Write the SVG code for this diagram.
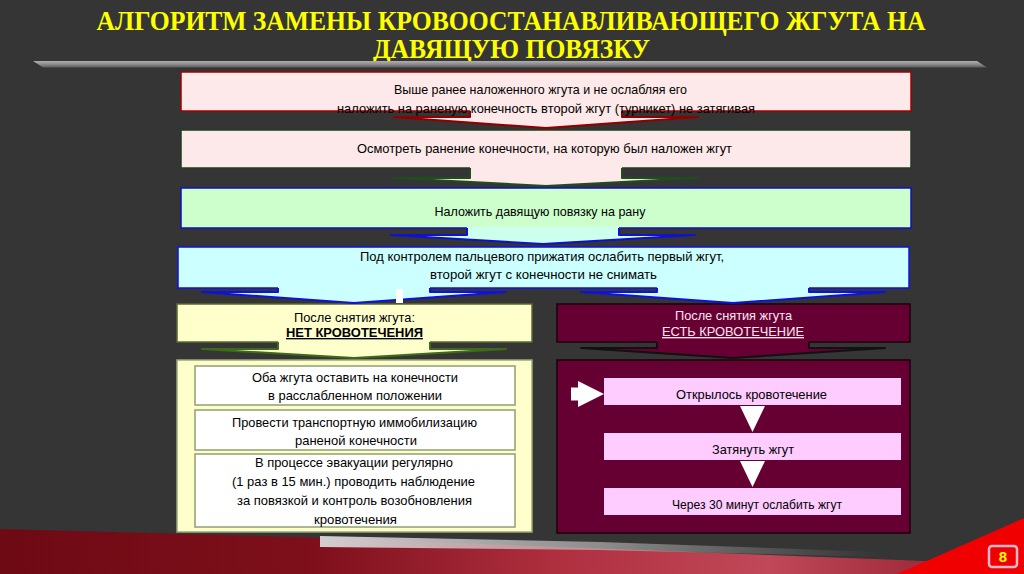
<svg xmlns="http://www.w3.org/2000/svg" width="1024" height="574" viewBox="0 0 1024 574">
<defs>
<linearGradient id="band" x1="0" y1="0" x2="1" y2="0">
<stop offset="0" stop-color="#6e0a14"/>
<stop offset="0.3" stop-color="#7d0f1a"/>
<stop offset="0.55" stop-color="#b03040"/>
<stop offset="0.75" stop-color="#c04858"/>
<stop offset="1" stop-color="#8c1828"/>
</linearGradient>
<linearGradient id="streak" x1="0" y1="0" x2="1" y2="0">
<stop offset="0" stop-color="#d8d8d8" stop-opacity="0.95"/>
<stop offset="0.5" stop-color="#c8c8c8" stop-opacity="0.6"/>
<stop offset="1" stop-color="#b0b0b0" stop-opacity="0"/>
</linearGradient>
<linearGradient id="bar" x1="0" y1="0" x2="0" y2="1">
<stop offset="0" stop-color="#b0b0b0"/>
<stop offset="0.5" stop-color="#8c8c8c"/>
<stop offset="1" stop-color="#5a5a5a"/>
</linearGradient>
</defs>
<style>
.t{font-family:"Liberation Sans",Arial,sans-serif;font-size:13px;fill:#000;text-anchor:middle}
.h{font-family:"Liberation Sans",Arial,sans-serif;font-size:13.5px;text-anchor:middle}
.title{font-family:"Liberation Serif","Times New Roman",serif;font-weight:bold;font-size:27px;fill:#ffff00;text-anchor:middle}
.ao{fill:none;stroke-width:2;stroke-linejoin:round}
</style>
<rect width="1024" height="574" fill="#353535"/>

<g id="bottom-decor">
<polygon points="0,529 300,537 900,560 1024,566 1024,574 0,574" fill="url(#band)"/>
<polygon points="320,536 600,542 880,552 880,557 600,550 320,547" fill="url(#streak)"/>
<polygon points="897,574 1024,518 1024,574" fill="#f00000"/>
</g>

<g id="title">
<text class="title" x="511" y="30" textLength="829" lengthAdjust="spacingAndGlyphs">АЛГОРИТМ ЗАМЕНЫ КРОВООСТАНАВЛИВАЮЩЕГО ЖГУТА НА</text>
<text class="title" x="511.5" y="58" textLength="277" lengthAdjust="spacingAndGlyphs">ДАВЯЩУЮ ПОВЯЗКУ</text>
<polygon points="33,61 977,61 987,67.5 43,67.5" fill="url(#bar)"/>
</g>

<g id="step1">
<rect x="181" y="72" width="730" height="39" fill="#fde9e9" stroke="#a00000" stroke-width="1.5"/>
</g>
<g id="step2">
<rect x="181" y="130" width="730" height="38" fill="#fde9e9" stroke="#1e3d1e" stroke-width="1.5"/>
<text class="t" x="544.5" y="153" textLength="375" lengthAdjust="spacingAndGlyphs">Осмотреть ранение конечности, на которую был наложен жгут</text>
</g>
<g id="step3">
<rect x="181" y="188" width="730" height="40" fill="#ccffcc" stroke="#1010c0" stroke-width="1.5"/>
<text class="t" x="540" y="216" textLength="211" lengthAdjust="spacingAndGlyphs">Наложить давящую повязку на рану</text>
</g>
<g id="step4">
<rect x="178" y="247" width="731" height="41" fill="#ccffff" stroke="#1010e0" stroke-width="1.5"/>
<text class="t" x="542" y="261" textLength="364" lengthAdjust="spacingAndGlyphs">Под контролем пальцевого прижатия ослабить первый жгут,</text>
<text class="t" x="543.5" y="279" textLength="227" lengthAdjust="spacingAndGlyphs">второй жгут с конечности не снимать</text>
</g>

<g id="no-bleeding-header">
<rect x="177" y="304" width="355" height="38" fill="#ffffcc" stroke="#556b2f" stroke-width="1.5"/>
<text class="h" x="354.5" y="322" textLength="121" lengthAdjust="spacingAndGlyphs" fill="#000">После снятия жгута:</text>
<text class="h" x="354.5" y="337" textLength="137" lengthAdjust="spacingAndGlyphs" fill="#000" font-weight="bold" text-decoration="underline">НЕТ КРОВОТЕЧЕНИЯ</text>
</g>
<g id="bleeding-header">
<rect x="557" y="304" width="353" height="38" fill="#660033" stroke="#1a0008" stroke-width="1.5"/>
<text class="h" x="733.5" y="320" textLength="117" lengthAdjust="spacingAndGlyphs" fill="#ffe4f0">После снятия жгута</text>
<text class="h" x="733" y="336" textLength="142" lengthAdjust="spacingAndGlyphs" fill="#ffe4f0" text-decoration="underline">ЕСТЬ КРОВОТЕЧЕНИЕ</text>
</g>

<g id="connectors">
<polygon points="470,110 622,110 622,117 698,117 546,128 394,117 470,117" fill="#fde9e9"/>
<polyline class="ao" points="470,111 470,117 394,117 546,128 698,117 622,117 622,111" stroke="#900000"/>
<polygon points="470,167 622,167 622,178 698,178 546,186 394,178 470,178" fill="#fde9e9"/>
<polyline class="ao" points="470,168 470,178 394,178 546,186 698,178 622,178 622,168" stroke="#1e4d1e"/>
<polygon points="467,227 619,227 619,235 695,235 543,244 391,235 467,235" fill="#ccffee"/>
<polyline class="ao" points="467,228 467,235 391,235 543,244 695,235 619,235 619,228" stroke="#1010d0"/>
<polygon points="278,287 430,287 430,292 506,292 354,303 202,292 278,292" fill="#ccffff"/>
<polyline class="ao" points="278,288 278,292 202,292 354,303 506,292 430,292 430,288" stroke="#1010e0"/>
<polygon points="657,287 809,287 809,292 885,292 733,303 581,292 657,292" fill="#ccffff"/>
<polyline class="ao" points="657,288 657,292 581,292 733,303 885,292 809,292 809,288" stroke="#1010e0"/>
<rect x="396" y="289" width="7" height="14" fill="#ffffff"/>
<polygon points="278,341 430,341 430,349 506,349 354,358 202,349 278,349" fill="#ffffcc"/>
<polyline class="ao" points="278,342 278,349 202,349 354,358 506,349 430,349 430,342" stroke="#3d6b1a"/>
<polygon points="657,341 809,341 809,348 885,348 733,358 581,348 657,348" fill="#660033"/>
<polyline class="ao" points="657,342 657,348 581,348 733,358 885,348 809,348 809,342" stroke="#111111"/>
</g>

<g id="step1-text">
<text class="t" x="540.5" y="94" textLength="293" lengthAdjust="spacingAndGlyphs">Выше ранее наложенного жгута и не ослабляя его</text>
<text class="t" x="546" y="113" textLength="418" lengthAdjust="spacingAndGlyphs">наложить на раненую конечность второй жгут (турникет) не затягивая</text>
</g>

<g id="no-bleeding-actions">
<rect x="177" y="360" width="355" height="172" fill="#ffffcc" stroke="#9aa878" stroke-width="1.5"/>
<rect x="195" y="366" width="320" height="39" fill="#ffffff" stroke="#8fa070" stroke-width="1.5"/>
<rect x="195" y="410" width="320" height="40" fill="#ffffff" stroke="#8fa070" stroke-width="1.5"/>
<rect x="195" y="454" width="320" height="73" fill="#ffffff" stroke="#8fa070" stroke-width="1.5"/>
<text class="h" fill="#000" x="355" y="382" textLength="206" lengthAdjust="spacingAndGlyphs">Оба жгута оставить на конечности</text>
<text class="h" fill="#000" x="355" y="400" textLength="174" lengthAdjust="spacingAndGlyphs">в расслабленном положении</text>
<text class="h" fill="#000" x="354.5" y="427" textLength="245" lengthAdjust="spacingAndGlyphs">Провести транспортную иммобилизацию</text>
<text class="h" fill="#000" x="356" y="445" textLength="122" lengthAdjust="spacingAndGlyphs">раненой конечности</text>
<text class="h" fill="#000" x="354" y="467" textLength="198" lengthAdjust="spacingAndGlyphs">В процессе эвакуации регулярно</text>
<text class="h" fill="#000" x="353.5" y="486" textLength="243" lengthAdjust="spacingAndGlyphs">(1 раз в 15 мин.) проводить наблюдение</text>
<text class="h" fill="#000" x="354.5" y="505" textLength="235" lengthAdjust="spacingAndGlyphs">за повязкой и контроль возобновления</text>
<text class="h" fill="#000" x="355.5" y="524" textLength="83" lengthAdjust="spacingAndGlyphs">кровотечения</text>
</g>

<g id="bleeding-actions">
<rect x="557" y="360" width="353" height="173" fill="#660033" stroke="#1a0008" stroke-width="1.5"/>
<rect x="604" y="378" width="297" height="27" fill="#ffccff"/>
<rect x="604" y="433" width="297" height="27" fill="#ffccff"/>
<rect x="604" y="488" width="297" height="27" fill="#ffccff"/>
<text class="h" fill="#000" x="751.5" y="399" textLength="151" lengthAdjust="spacingAndGlyphs">Открылось кровотечение</text>
<text class="h" fill="#000" x="753" y="453.5" textLength="82" lengthAdjust="spacingAndGlyphs">Затянуть жгут</text>
<text class="h" fill="#000" x="757" y="508.5" textLength="170" lengthAdjust="spacingAndGlyphs">Через 30 минут ослабить жгут</text>
</g>
<g id="bleeding-arrows">
<polygon points="740,406 765,406 752.5,432" fill="#ffffff"/>
<polygon points="740,461 765,461 752.5,487" fill="#ffffff"/>
<polygon points="571,387.5 578,387.5 578,381 604,394 578,407 578,400.5 571,400.5" fill="#ffffff"/>
</g>

<g id="page-number">
<rect x="989" y="546" width="28" height="21" rx="3" fill="none" stroke="#e6b8d0" stroke-width="2.5"/>
<text x="1003" y="562" font-family="Liberation Sans, Arial, sans-serif" font-size="15" font-weight="bold" fill="#ffff00" text-anchor="middle">8</text>
</g>
</svg>
